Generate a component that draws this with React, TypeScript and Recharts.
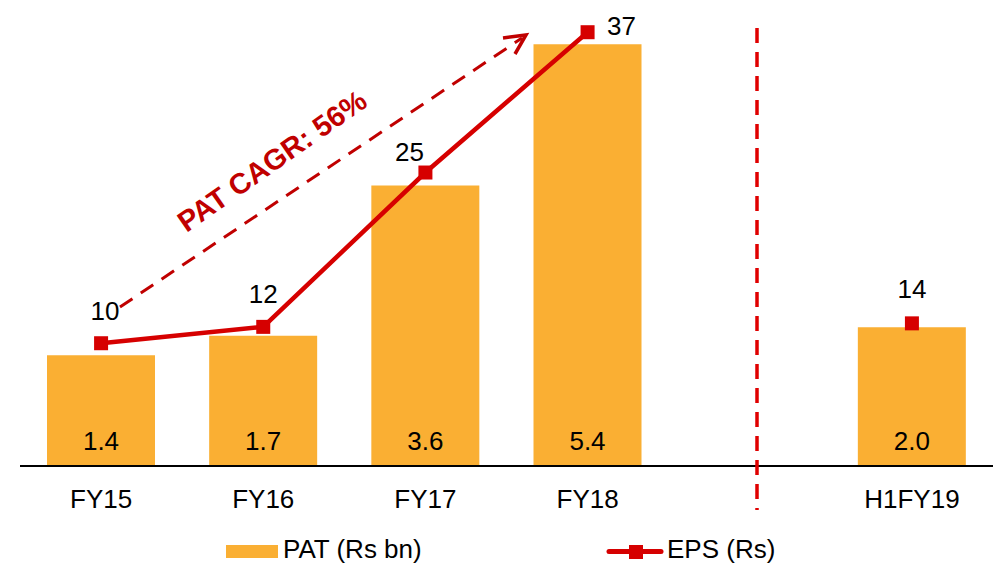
import React from 'react';
import { ComposedChart, Bar, Line, XAxis, YAxis, LabelList } from 'recharts';

const categories = ['FY15', 'FY16', 'FY17', 'FY18', ' ', 'H1FY19'];
const patValues = [1.42, 1.67, 3.6, 5.41, null, 1.78];
const patLabels = ['1.4', '1.7', '3.6', '5.4', '', '2.0'];
const epsValues = [10.5, 11.9, 25.1, 37.1, null, 12.2];
const epsLabels = ['10', '12', '25', '37', '', '14'];

const data = categories.map((c, i) => ({
  cat: c,
  pat: patValues[i],
  eps: epsValues[i],
  patLabel: patLabels[i],
  epsLabel: epsLabels[i],
}));

const FONT = '"Liberation Sans", Arial, sans-serif';
const FS = 26;
const BAR_COLOR = '#FAAF33';
const LINE_COLOR = '#D60000';
const ANNO_COLOR = '#C00000';

const Tick = (props: any) => {
  const { x, y, payload } = props;
  return (
    <text x={x} y={y + 42} textAnchor="middle" fontSize={FS} fontFamily={FONT} fill="#000">
      {payload.value}
    </text>
  );
};

const BarLabel = (props: any) => {
  const { x, y, width, height, value } = props;
  if (!value || x == null) return null;
  return (
    <text x={x + width / 2} y={y + height - 16} textAnchor="middle" fontSize={FS} fontFamily={FONT} fill="#000">
      {value}
    </text>
  );
};

// label placement relative to marker, per category
const epsLabelPlacement: Record<string, [number, number]> = {
  FY15: [4, -23],
  FY16: [0, -24],
  FY17: [-16, -12],
  FY18: [34, 3],
  H1FY19: [0, -25],
};

const EpsLabel = (props: any) => {
  const { x, y, value, index } = props;
  if (!value || x == null || y == null) return null;
  const cat = categories[index];
  const [dx, dy] = epsLabelPlacement[cat] || [0, -24];
  return (
    <text x={x + dx} y={y + dy} textAnchor="middle" fontSize={FS} fontFamily={FONT} fill="#000">
      {value}
    </text>
  );
};

const SquareDot = (props: any) => {
  const { cx, cy, payload } = props;
  if (cx == null || cy == null || payload == null || payload.eps == null) return null;
  return <rect x={cx - 7} y={cy - 7} width={14} height={14} fill={LINE_COLOR} />;
};

export default function App() {
  return (
    <div style={{ position: 'absolute', left: 0, top: 0, width: 993, height: 567, background: '#fff' }}>
      <ComposedChart
        width={993}
        height={567}
        data={data}
        margin={{ top: 10, right: 0, left: 20, bottom: 71 }}
      >
        <XAxis
          dataKey="cat"
          height={30}
          tickLine={false}
          tickSize={0}
          tickMargin={0}
          axisLine={{ stroke: '#000', strokeWidth: 2 }}
          tick={<Tick />}
          interval={0}
        />
        <YAxis yAxisId="left" hide domain={[0, 5.85]} />
        <YAxis yAxisId="right" orientation="right" hide domain={[0, 39]} />
        <Bar yAxisId="left" dataKey="pat" fill={BAR_COLOR} barSize={108} isAnimationActive={false}>
          <LabelList dataKey="patLabel" content={<BarLabel />} />
        </Bar>
        <Line
          yAxisId="right"
          dataKey="eps"
          stroke={LINE_COLOR}
          strokeWidth={4.5}
          dot={<SquareDot />}
          activeDot={false}
          connectNulls={false}
          isAnimationActive={false}
        >
          <LabelList dataKey="epsLabel" content={<EpsLabel />} />
        </Line>
      </ComposedChart>
      <svg
        width={993}
        height={567}
        style={{ position: 'absolute', left: 0, top: 0, pointerEvents: 'none' }}
      >
        {/* vertical separator */}
        <line x1={757} y1={28} x2={757} y2={510} stroke="#E00000" strokeWidth={3.5} strokeDasharray="15 9" />
        {/* CAGR arrow */}
        <line x1={120} y1={307} x2={522} y2={38} stroke={ANNO_COLOR} strokeWidth={3} strokeDasharray="15 10" />
        <polyline points="503,38 526,35 515,54" fill="none" stroke={ANNO_COLOR} strokeWidth={3.5} />
        <text
          x={272}
          y={161}
          textAnchor="middle"
          dominantBaseline="central"
          fontSize={29}
          fontWeight="bold"
          fontFamily={FONT}
          fill={ANNO_COLOR}
          transform="rotate(-35 272 161)"
        >
          PAT CAGR: 56%
        </text>
        {/* legend */}
        <rect x={226} y={545} width={52} height={13} fill={BAR_COLOR} />
        <text x={283} y={558} fontSize={FS} fontFamily={FONT} fill="#000">PAT (Rs bn)</text>
        <line x1={609} y1={551.5} x2={661} y2={551.5} stroke={LINE_COLOR} strokeWidth={5} strokeLinecap="round" />
        <rect x={629} y={545} width={14} height={14} fill={LINE_COLOR} />
        <text x={667} y={558} fontSize={FS} fontFamily={FONT} fill="#000">EPS (Rs)</text>
      </svg>
    </div>
  );
}
